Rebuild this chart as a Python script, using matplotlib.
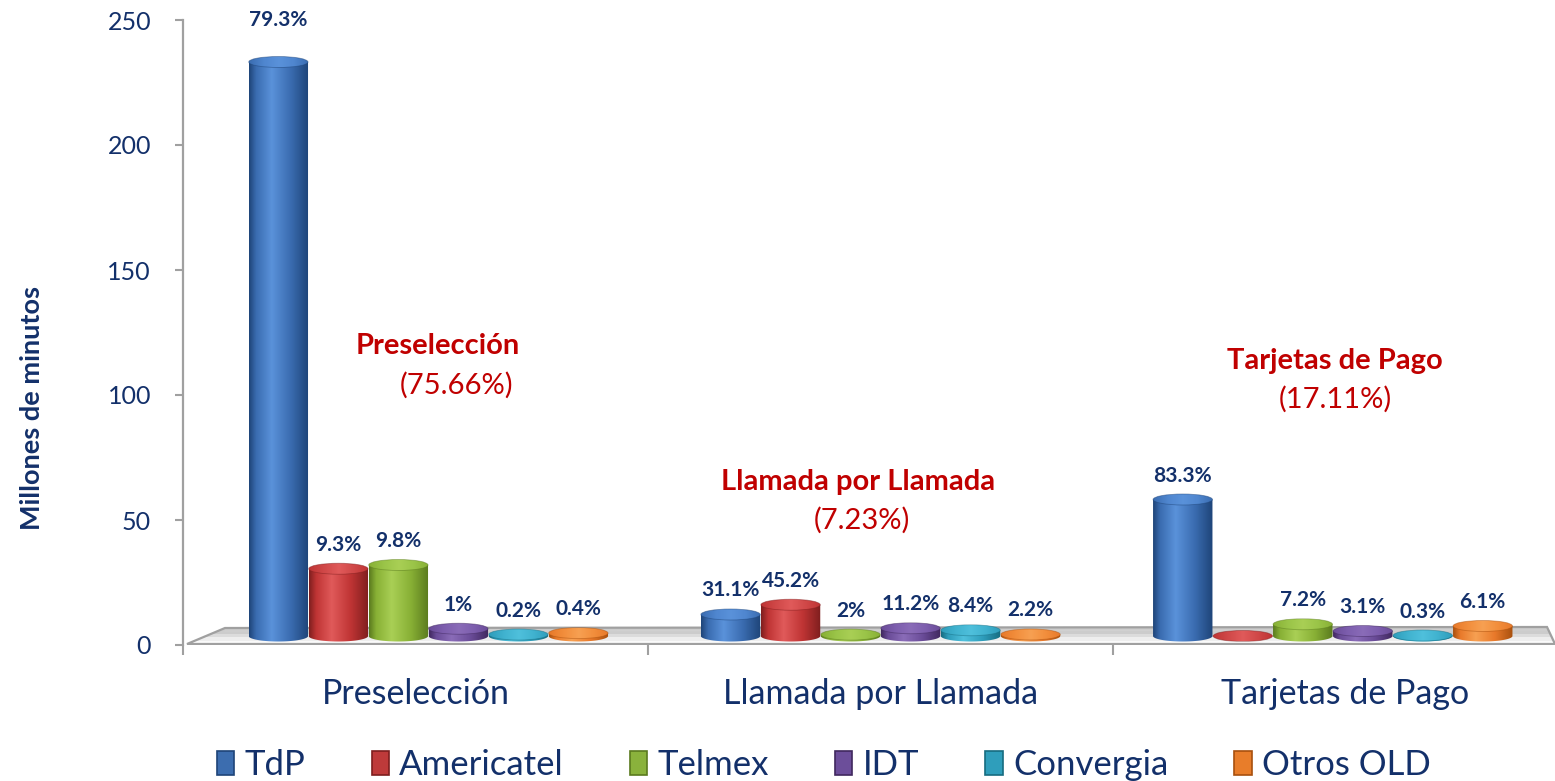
import numpy as np
import matplotlib
matplotlib.use("Agg")
import matplotlib.pyplot as plt
from matplotlib.patches import Ellipse, Polygon, Patch
from matplotlib.colors import LinearSegmentedColormap

# ---------------- data ----------------
categories = ["Preselección", "Llamada por Llamada", "Tarjetas de Pago"]
operators = ["TdP", "Americatel", "Telmex", "IDT", "Convergia", "Otros OLD"]

# millones de minutos
tdp = [229.6, 8.6, 54.6]
americatel = [26.9, 12.5, 0.0]
telmex = [28.4, 0.55, 4.7]
idt = [2.9, 3.1, 2.0]
convergia = [0.58, 2.3, 0.2]
otros = [1.16, 0.61, 4.0]

tdp_pct = ["79.3%", "31.1%", "83.3%"]
americatel_pct = ["9.3%", "45.2%", ""]
telmex_pct = ["9.8%", "2%", "7.2%"]
idt_pct = ["1%", "11.2%", "3.1%"]
convergia_pct = ["0.2%", "8.4%", "0.3%"]
otros_pct = ["0.4%", "2.2%", "6.1%"]

segment_titles = ["Preselección", "Llamada por Llamada", "Tarjetas de Pago"]
segment_shares = ["(75.66%)", "(7.23%)", "(17.11%)"]

yticks = [0, 50, 100, 150, 200, 250]

series = [tdp, americatel, telmex, idt, convergia, otros]
series_pct = [tdp_pct, americatel_pct, telmex_pct, idt_pct, convergia_pct, otros_pct]

# ---------------- style ----------------
# (dark edge, mid, light highlight, top face)
palettes = [
    ("#1E4478", "#3A6CB0", "#5A92DA", "#4F86CF"),
    ("#7E1E1E", "#BF3434", "#E05A5A", "#D04848"),
    ("#5A7A1E", "#88B035", "#A9CF55", "#9AC448"),
    ("#40285E", "#6A4C98", "#8A6CB8", "#7D5EAE"),
    ("#166C80", "#2E9DBB", "#4FC0DC", "#40B2CF"),
    ("#A8500E", "#E8792A", "#F7A052", "#F28E3C"),
]
legend_colors = ["#3C6DAF", "#BE3A3A", "#8AB23C", "#6C4E9A", "#2F9EBB", "#E87D2A"]
NAVY = "#13306A"
RED = "#C00000"
GRAY = "#A0A0A0"

plt.rcParams["font.family"] = ["Lato", "DejaVu Sans"]

W, H = 1555, 781
fig = plt.figure(figsize=(W / 100, H / 100), dpi=100)
ax_left, ax_right, ax_bottom, ax_top = 183, 1555, 645, 20
ax = fig.add_axes([ax_left / W, (H - ax_bottom) / H,
                   (ax_right - ax_left) / W, (ax_bottom - ax_top) / H])
px_per_cat = 465.0
xmin = -0.5
xmax = xmin + (ax_right - ax_left) / px_per_cat
ymax = 250
px_per_unit = (ax_bottom - ax_top) / ymax
u = 1.0 / px_per_unit  # data units per pixel (y)


def px2x(px):
    return xmin + (px - ax_left) / px_per_cat


def px2y(py):
    return (ax_bottom - py) * u


# ---- floor ----
floor = [(px2x(187), px2y(644)), (px2x(225), px2y(628)),
         (px2x(1547), px2y(627)), (px2x(1555), px2y(644))]
fl = Polygon(floor, closed=True, facecolor="none", edgecolor="none")
ax.add_patch(fl)
fgrad = np.array([[0.80], [0.80], [0.86], [0.93], [0.98]])
fim = ax.imshow(fgrad, extent=[xmin, xmax, px2y(644), px2y(627)], aspect="auto",
                cmap="gray", vmin=0, vmax=1, origin="upper", zorder=1)
fim.set_clip_path(fl)
ax.add_patch(Polygon(floor, closed=True, facecolor="none", edgecolor=GRAY,
                     lw=1.6, zorder=1.5))
ax.plot([px2x(225), px2x(1547)], [px2y(631), px2y(630)], color="#D0D0D0", lw=1, zorder=1.4)

BASE = px2y(636)
EH = 11 * u
BW = 60.0 / px_per_cat


def make_cmap(p):
    dark, mid, light, _ = p
    return LinearSegmentedColormap.from_list(
        "c", [(0, dark), (0.12, mid), (0.38, light), (0.7, mid), (1.0, dark)])


def cylinder(xc, value, p, z):
    w = BW * 0.99
    top = BASE + value
    cmap = make_cmap(p)
    if value > 0:
        t = np.linspace(0, np.pi, 60)
        arc = list(zip(xc + w / 2 * np.cos(t), BASE - EH / 2 * np.sin(t)))
        verts = [(xc - w / 2, top), (xc + w / 2, top)] + arc
        body = Polygon(verts, closed=True, facecolor="none", edgecolor="none", zorder=z)
        ax.add_patch(body)
        grad = np.linspace(0, 1, 256)[None, :]
        im = ax.imshow(grad, extent=[xc - w / 2, xc + w / 2, BASE - EH, top],
                       aspect="auto", cmap=cmap, zorder=z)
        im.set_clip_path(body)
    tcmap = LinearSegmentedColormap.from_list("t", [p[1], p[3], p[2], p[3], p[1]])
    ell = Ellipse((xc, top), w, EH, facecolor="none", edgecolor="none", zorder=z + 0.1)
    ax.add_patch(ell)
    grad = np.linspace(0, 1, 256)[None, :]
    im2 = ax.imshow(grad, extent=[xc - w / 2, xc + w / 2, top - EH / 2, top + EH / 2],
                    aspect="auto", cmap=tcmap, zorder=z + 0.1)
    im2.set_clip_path(ell)
    ax.add_patch(Ellipse((xc, top), w, EH, facecolor="none",
                         edgecolor=p[0], lw=0.6, alpha=0.5, zorder=z + 0.2))


label_off = 24 * u
for ci in range(len(categories)):
    start = ci + (-0.295 - 0.0275 * ci)
    for si, (vals, pcts) in enumerate(zip(series, series_pct)):
        xc = start + si * BW
        v = vals[ci]
        cylinder(xc, v, palettes[si], z=3 + ci * 10 + si)
        if pcts[ci]:
            ly = BASE + v + label_off
            if ly > 0.9 * ymax:      # tall bar: label pinned at the top of the plot
                ly = ymax
            ax.text(xc, ly, pcts[ci], ha="center", va="center", fontsize=15,
                    fontweight="bold", color=NAVY, zorder=100)

# segment annotations
ann_pos = [((438, 346), (457, 385)), ((858, 482), (862, 520)), ((1335, 361), (1335, 399))]
for (tpos, spos), title, share in zip(ann_pos, segment_titles, segment_shares):
    ax.text(px2x(tpos[0]), px2y(tpos[1]), title, ha="center", va="center",
            fontsize=21, fontweight="bold", color=RED, zorder=100)
    ax.text(px2x(spos[0]), px2y(spos[1]), share, ha="center", va="center",
            fontsize=21, color=RED, zorder=100)

ax.set_xlim(xmin, xmax)
ax.set_ylim(0, ymax)
ax.set_yticks(yticks)
ax.set_yticklabels([str(t) for t in yticks])
ax.set_xticks(range(len(categories)))
ax.set_xticklabels(categories)
ax.set_xticks([-0.5, 0.5, 1.5], minor=True)
ax.tick_params(axis="x", which="major", length=0, pad=24, labelsize=24.5, labelcolor=NAVY)
ax.tick_params(axis="x", which="minor", length=7.5, width=1.5, color=GRAY, direction="out")
ax.tick_params(axis="y", length=6, width=1.5, color=GRAY, pad=17, labelsize=18,
               labelcolor=NAVY)
for s in ["top", "right", "bottom"]:
    ax.spines[s].set_visible(False)
ax.spines["left"].set_color(GRAY)
ax.spines["left"].set_linewidth(1.6)
ax.patch.set_visible(False)

fig.text(32 / W, 1 - 408 / H, "Millones de minutos", rotation=90, ha="center",
         va="center", fontsize=19.5, fontweight="bold", color=NAVY)

handles = [Patch(facecolor=c, edgecolor=palettes[i][0], lw=1.2, label=op)
           for i, (c, op) in enumerate(zip(legend_colors, operators))]
leg = fig.legend(handles=handles, loc="center", bbox_to_anchor=(824 / W, 1 - 765 / H),
                 ncol=6, frameon=False, fontsize=25, handlelength=0.5,
                 handleheight=0.7, handletextpad=0.3, columnspacing=1.9)
for t in leg.get_texts():
    t.set_color(NAVY)

fig.savefig("out.png", dpi=100)
